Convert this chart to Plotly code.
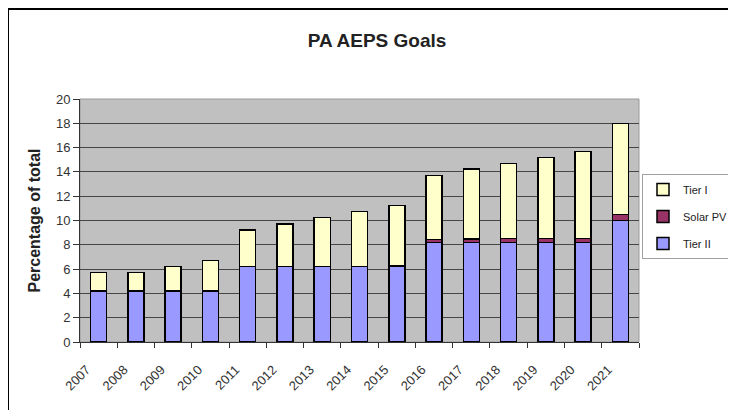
import plotly.graph_objects as go

years = ["2007", "2008", "2009", "2010", "2011", "2012", "2013", "2014",
         "2015", "2016", "2017", "2018", "2019", "2020", "2021"]
tier_ii = [4.2, 4.2, 4.2, 4.2, 6.2, 6.2, 6.2, 6.2, 6.2, 8.2, 8.2, 8.2, 8.2, 8.2, 10.0]
solar_pv = [0.001, 0.003, 0.006, 0.01, 0.02, 0.02, 0.03, 0.03, 0.04,
            0.25, 0.29, 0.3, 0.3, 0.3, 0.5]
tier_i = [1.5, 1.5, 2.0, 2.5, 3.0, 3.5, 4.0, 4.5, 5.0, 5.25, 5.75, 6.2, 6.7, 7.2, 7.5]
y_ticks = [0, 2, 4, 6, 8, 10, 12, 14, 16, 18, 20]

FONT = "Liberation Sans, Arial, sans-serif"
outline = dict(color="#000000", width=1.5)

fig = go.Figure()
fig.add_trace(go.Bar(x=years, y=tier_ii, name="Tier II", legendgroup="c", legendrank=3,
                     marker=dict(color="#9999FF", line=outline)))
fig.add_trace(go.Bar(x=years, y=solar_pv, name="Solar PV", legendgroup="b", legendrank=2,
                     marker=dict(color="#993366", line=outline)))
fig.add_trace(go.Bar(x=years, y=tier_i, name="Tier I", legendgroup="a", legendrank=1,
                     marker=dict(color="#FFFFCC", line=outline)))

# the html body has a default 8px margin on every side; keep the figure inside
OFF = 8
W, H = 736 - 2 * OFF, 418 - 2 * OFF
L, R, T, B = 80 - OFF, 639 - OFF, 99 - OFF, 342 - OFF


def px_x(p):
    return (p - OFF - L) / (R - L)


def px_y(p):
    return (B - (p - OFF)) / (B - T)


fig.update_layout(
    width=W, height=H,
    margin=dict(l=L, r=W - R, t=T, b=H - B, pad=0, autoexpand=False),
    barmode="stack",
    bargap=0.57,
    paper_bgcolor="#FFFFFF",
    plot_bgcolor="#C0C0C0",
    font=dict(family=FONT, color="#222222", size=12),
    title=dict(text="<b>PA AEPS Goals</b>", x=(377 - OFF) / W, xanchor="center",
               xref="container", yref="container",
               y=1 - (40 - OFF) / H, yanchor="middle",
               font=dict(family=FONT, size=19, color="#222222")),
    showlegend=True,
    legend=dict(
        traceorder="grouped",
        tracegroupgap=8,
        xref="container", yref="container",
        x=(642 - OFF) / W, xanchor="left",
        y=1 - (174 - OFF) / H, yanchor="top",
        bgcolor="#FFFFFF",
        bordercolor="#A0A0A0", borderwidth=1,
        font=dict(family=FONT, size=11, color="#222222"),
        itemwidth=30,
    ),
    xaxis=dict(
        type="category",
        automargin=False,
        tickangle=-45,
        ticks="outside", ticklen=5, tickcolor="#333333",
        tickson="boundaries",
        ticklabelstandoff=14,
        ticklabelshift=-12,
        showline=True, linecolor="#333333", linewidth=1,
        showgrid=False,
        tickfont=dict(family=FONT, size=13, color="#333333"),
    ),
    yaxis=dict(
        range=[0, 20],
        automargin=False,
        tickvals=y_ticks,
        ticks="outside", ticklen=6, tickcolor="#333333",
        showline=True, linecolor="#333333", linewidth=1,
        showgrid=True, gridcolor="#454545", gridwidth=1,
        zeroline=False,
        tickfont=dict(family=FONT, size=13, color="#333333"),
        title=dict(text="<b>Percentage of total</b>", standoff=11,
                   font=dict(family=FONT, size=16, color="#222222")),
    ),
    shapes=[
        dict(type="rect", xref="paper", yref="paper",
             x0=0, x1=1, y0=0, y1=1, line=dict(color="#9a9a9a", width=1),
             layer="below"),
        dict(type="rect", xref="paper", yref="paper",
             x0=px_x(8), x1=px_x(780), y0=px_y(460), y1=px_y(9),
             line=dict(color="#000000", width=2)),
    ],
)

fig.write_html("out.html")
